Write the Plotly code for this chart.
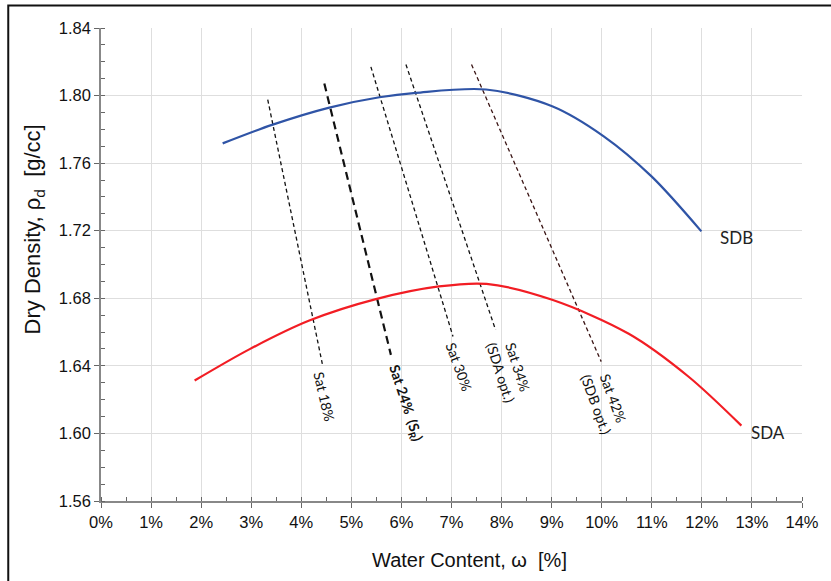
import plotly.graph_objects as go

# Compaction curves: water content [%] vs dry density [g/cc]
sdb_w = [2.43, 3.43, 4.56, 5.56, 6.29, 7.69, 9.01, 10.04, 11.0, 11.99]
sdb_rho = [1.7717, 1.7828, 1.7929, 1.799, 1.8016, 1.8036, 1.7937, 1.7759, 1.752, 1.7196]

sda_w = [1.87, 2.97, 4.16, 5.49, 6.75, 7.7, 9.01, 10.54, 11.73, 12.79]
sda_rho = [1.6313, 1.6499, 1.6668, 1.6795, 1.687, 1.6885, 1.6791, 1.659, 1.6337, 1.6046]

# Saturation lines (end points)
sat_names = ["Sat 18%", "Sat 24%", "Sat 30%", "Sat 34%", "Sat 42%"]
sat_w = [[3.33, 4.42], [4.46, 5.79], [5.39, 7.03], [6.09, 7.88], [7.40, 9.99]]
sat_rho = [[1.7976, 1.6412], [1.8071, 1.6465], [1.8170, 1.6574], [1.8184, 1.6613], [1.8184, 1.6425]]
sat_colors = ["#111111", "#111111", "#111111", "#111111", "#3a1414"]
sat_widths = [1.3, 2.2, 1.3, 1.3, 1.3]
sat_dashes = ["4px,3px", "8px,5px", "4px,3px", "4px,3px", "4px,3px"]

# Saturation line labels
label_texts = ["Sat 18%", "<b>Sat 24%  (S<sub>R</sub>)</b>", "Sat 30%",
               "Sat 34%<br>(SDA opt.)", "Sat 42%<br>(SDB opt.)"]
label_w = [4.46, 6.09, 7.15, 8.15, 10.06]
label_rho = [1.6218, 1.6179, 1.6396, 1.6376, 1.6187]
label_angles = [77, 72, 70, 72, 70]

x_ticks = list(range(0, 15))
x_tick_labels = [f"{v}%" for v in x_ticks]
y_ticks = [1.56, 1.60, 1.64, 1.68, 1.72, 1.76, 1.80, 1.84]
y_tick_labels = [f"{v:.2f}" for v in y_ticks]

fig = go.Figure()

for name, w, r, c, lw, d in zip(sat_names, sat_w, sat_rho, sat_colors, sat_widths, sat_dashes):
    fig.add_trace(go.Scatter(x=w, y=r, mode="lines", name=name,
                             line=dict(color=c, width=lw, dash=d), showlegend=False))

fig.add_trace(go.Scatter(x=sdb_w, y=sdb_rho, mode="lines", name="SDB",
                         line=dict(color="#2f54a6", width=2.2, shape="spline", smoothing=0.9),
                         showlegend=False))
fig.add_trace(go.Scatter(x=sda_w, y=sda_rho, mode="lines", name="SDA",
                         line=dict(color="#f21d24", width=2.2, shape="spline", smoothing=0.9),
                         showlegend=False))

label_font = dict(family="Lato, 'Open Sans', sans-serif", size=14, color="#111111")
for t, w, r, a in zip(label_texts, label_w, label_rho, label_angles):
    fig.add_annotation(x=w, y=r, text=t, showarrow=False, textangle=a,
                       xanchor="center", yanchor="middle", font=label_font)

curve_font = dict(family="Lato, 'Open Sans', sans-serif", size=17, color="#222222")
fig.add_annotation(x=12.7, y=1.7162, text="SDB", showarrow=False,
                   xanchor="center", yanchor="middle", font=curve_font)
fig.add_annotation(x=13.33, y=1.6007, text="SDA", showarrow=False,
                   xanchor="center", yanchor="middle", font=curve_font)

title_font = dict(family="Liberation Sans, Arial, sans-serif", size=20, color="#111111")
fig.add_annotation(xref="paper", yref="paper", x=0.525, y=-0.125,
                   text="Water Content, \u03c9  [%]", showarrow=False,
                   xanchor="center", yanchor="middle", font=title_font)
fig.add_annotation(xref="paper", yref="paper", x=-0.095, y=0.575,
                   text="Dry Density, \u03c1<sub>d</sub>  [g/cc]", showarrow=False,
                   textangle=-90, xanchor="center", yanchor="middle",
                   font=dict(family="Liberation Sans, Arial, sans-serif", size=22, color="#111111"))

# Outer frame
fig.add_shape(type="rect", xref="paper", yref="paper",
              x0=-0.1323, y0=-0.3, x1=1.2, y1=1.0476,
              line=dict(color="#111111", width=2), fillcolor="rgba(0,0,0,0)", layer="above")

tick_font = dict(family="Liberation Sans, Arial, sans-serif", size=16.5, color="#111111")
fig.update_xaxes(range=[0, 14], tickvals=x_ticks, ticktext=x_tick_labels,
                 showgrid=True, gridcolor="#dedede", gridwidth=1,
                 showline=True, linecolor="#888888", linewidth=1.5,
                 ticks="outside", ticklen=5, tickcolor="#666666", tickfont=tick_font,
                 minor=dict(dtick=0.5, ticks="inside", ticklen=4, tickcolor="#666666", showgrid=False),
                 zeroline=False, mirror=False)
fig.update_yaxes(range=[1.56, 1.84], tickvals=y_ticks, ticktext=y_tick_labels,
                 showgrid=True, gridcolor="#dedede", gridwidth=1,
                 showline=True, linecolor="#888888", linewidth=1.5,
                 ticks="outside", ticklen=5, tickcolor="#666666", tickfont=tick_font,
                 minor=dict(dtick=0.01, ticks="inside", ticklen=4, tickcolor="#666666", showgrid=False),
                 zeroline=False, mirror=False)

fig.update_layout(width=831, height=581, margin=dict(l=101, r=27, t=28, b=80),
                  paper_bgcolor="white", plot_bgcolor="white")

fig.write_html("out.html")
